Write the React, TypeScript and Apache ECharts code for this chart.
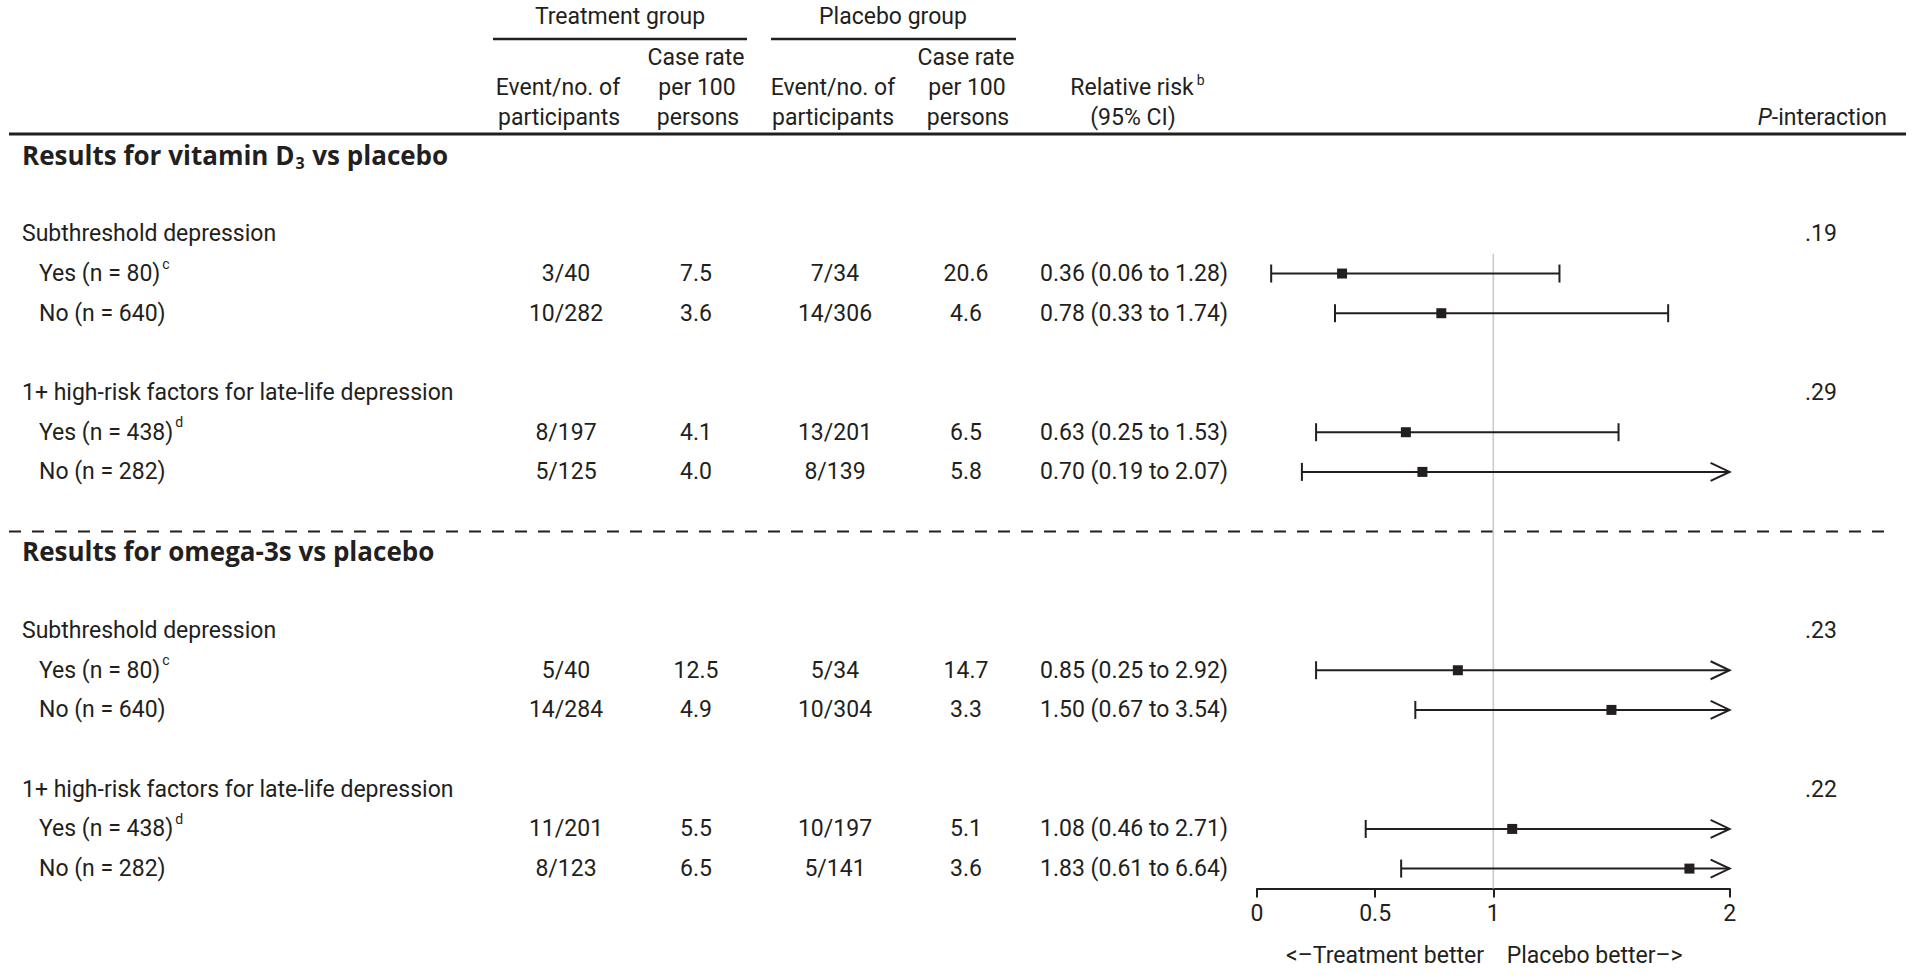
import React, { useEffect, useRef } from "react";
import * as echarts from "echarts";

// ---------------- data ----------------
const sectionTitles = ["Results for vitamin D", "Results for omega-3s vs placebo"];
const sectionTitleSub = ["3", ""];
const sectionTitleTail = [" vs placebo", ""];
const groupNames = ["Subthreshold depression", "1+ high-risk factors for late-life depression"];
const rowLabels = [
  "Yes (n = 80)", "No (n = 640)", "Yes (n = 438)", "No (n = 282)",
  "Yes (n = 80)", "No (n = 640)", "Yes (n = 438)", "No (n = 282)",
];
const rowNotes = ["c", "", "d", "", "c", "", "d", ""];
const treatmentEvents = ["3/40", "10/282", "8/197", "5/125", "5/40", "14/284", "11/201", "8/123"];
const treatmentRates = [7.5, 3.6, 4.1, 4.0, 12.5, 4.9, 5.5, 6.5];
const placeboEvents = ["7/34", "14/306", "13/201", "8/139", "5/34", "10/304", "10/197", "5/141"];
const placeboRates = [20.6, 4.6, 6.5, 5.8, 14.7, 3.3, 5.1, 3.6];
const relativeRisk = [0.36, 0.78, 0.63, 0.70, 0.85, 1.50, 1.08, 1.83];
const ciLower = [0.06, 0.33, 0.25, 0.19, 0.25, 0.67, 0.46, 0.61];
const ciUpper = [1.28, 1.74, 1.53, 2.07, 2.92, 3.54, 2.71, 6.64];
const pInteraction = [".19", ".29", ".23", ".22"];
const axisTickValues = [0, 0.5, 1, 2];
const axisMin = 0;
const axisMax = 2;
const referenceValue = 1;
const axisCaption = "<–Treatment better    Placebo better–>";

// ---------------- layout / style ----------------
const W = 1920;
const H = 980;
const INK = "#231f20";
const FF = "Roboto, 'Noto Sans', sans-serif";
const TITLE_FF = "'Open Sans', Roboto, sans-serif";
const FS = 23;
const TITLE_FS = 26;
const PITCH = 39.67;
const N_SLOTS = 19;
const GRID_TOP = 134.7;
const GRID_LEFT = 1257;
const GRID_RIGHT_X = 1729.6;
const GRID_BOTTOM = H - (GRID_TOP + N_SLOTS * PITCH);
const slotY = (s: number) => GRID_TOP + (s + 0.5) * PITCH;

const X_LABEL = 22;
const X_SUB = 39;
const X_TE = 566;
const X_TR = 696;
const X_PE = 835;
const X_PR = 966;
const X_RR = 1134;
const X_P = 1821;

let measureCtx: CanvasRenderingContext2D | null = null;
function measure(text: string, size: number, weight = "normal", family = FF, style = "normal") {
  if (!measureCtx) measureCtx = document.createElement("canvas").getContext("2d");
  if (!measureCtx) return text.length * size * 0.5;
  measureCtx.font = `${style} ${weight} ${size}px ${family}`;
  return measureCtx.measureText(text).width;
}

function txt(
  x: number,
  y: number,
  text: string,
  align: "left" | "center" | "right" = "center",
  size = FS,
  weight = "normal",
  family = FF,
  fontStyle = "normal"
): any {
  return {
    type: "text",
    x,
    y,
    style: {
      text,
      fill: INK,
      fontFamily: family,
      fontSize: size,
      fontWeight: weight,
      fontStyle,
      align,
      textAlign: align,
      verticalAlign: "middle",
      textVerticalAlign: "middle",
    },
  };
}

type Item = { kind: "title" | "group" | "row"; slot: number; idx: number };
const items: Item[] = [];
for (let s = 0; s < sectionTitles.length; s++) {
  items.push({ kind: "title", slot: s * 10, idx: s });
  for (let g = 0; g < groupNames.length; g++) {
    const gs = s * 10 + 2 + g * 4;
    items.push({ kind: "group", slot: gs, idx: s * 2 + g });
    for (let r = 0; r < 2; r++) items.push({ kind: "row", slot: gs + 1 + r, idx: s * 4 + g * 2 + r });
  }
}
const rowSlots: number[] = [];
items.forEach((it) => {
  if (it.kind === "row") rowSlots[it.idx] = it.slot;
});

function renderText(params: any, api: any) {
  const it = items[params.dataIndex];
  const y = api.coord([0, api.value(1)])[1];
  const children: any[] = [];
  if (it.kind === "title") {
    const t = sectionTitles[it.idx];
    const w = measure(t, TITLE_FS, "bold", TITLE_FF);
    children.push(txt(X_LABEL, y, t, "left", TITLE_FS, "bold", TITLE_FF));
    const sub = sectionTitleSub[it.idx];
    if (sub) {
      const ws = measure(sub, 16, "bold", TITLE_FF);
      children.push(txt(X_LABEL + w + 1, y + 8, sub, "left", 16, "bold", TITLE_FF));
      children.push(txt(X_LABEL + w + ws + 2, y, sectionTitleTail[it.idx], "left", TITLE_FS, "bold", TITLE_FF));
    }
  } else if (it.kind === "group") {
    children.push(txt(X_LABEL, y, groupNames[it.idx % 2], "left"));
    children.push(txt(X_P, y, pInteraction[it.idx], "center"));
  } else {
    const i = it.idx;
    const lab = rowLabels[i];
    children.push(txt(X_SUB, y, lab, "left"));
    if (rowNotes[i]) {
      const w = measure(lab, FS);
      children.push(txt(X_SUB + w + 2, y - 10, rowNotes[i], "left", 14));
    }
    children.push(txt(X_TE, y, treatmentEvents[i]));
    children.push(txt(X_TR, y, treatmentRates[i].toFixed(1)));
    children.push(txt(X_PE, y, placeboEvents[i]));
    children.push(txt(X_PR, y, placeboRates[i].toFixed(1)));
    children.push(
      txt(
        X_RR,
        y,
        `${relativeRisk[i].toFixed(2)} (${ciLower[i].toFixed(2)} to ${ciUpper[i].toFixed(2)})`
      )
    );
  }
  return { type: "group", children };
}

function renderForest(params: any, api: any) {
  const rr = api.value(0);
  const slot = api.value(1);
  const lo = api.value(2);
  const hi = api.value(3);
  const [xr, y] = api.coord([rr, slot]);
  const xl = api.coord([Math.max(lo, axisMin), slot])[0];
  const clipped = hi > axisMax;
  const xh = api.coord([Math.min(hi, axisMax), slot])[0];
  const st = { stroke: INK, lineWidth: 2, fill: null };
  const children: any[] = [
    { type: "line", shape: { x1: xl, y1: y, x2: xh, y2: y }, style: st },
    { type: "line", shape: { x1: xl, y1: y - 9, x2: xl, y2: y + 9 }, style: st },
  ];
  if (clipped) {
    children.push({
      type: "polyline",
      shape: { points: [[xh - 19, y - 9], [xh, y], [xh - 19, y + 9]] },
      style: st,
    });
  } else {
    children.push({ type: "line", shape: { x1: xh, y1: y - 9, x2: xh, y2: y + 9 }, style: st });
  }
  children.push({ type: "rect", shape: { x: xr - 5, y: y - 5, width: 10, height: 10 }, style: { fill: INK } });
  return { type: "group", children };
}

function renderRef(params: any, api: any) {
  const p1 = api.coord([api.value(0), api.value(1)]);
  const p2 = api.coord([api.value(0), api.value(2)]);
  return {
    type: "line",
    shape: { x1: p1[0], y1: p1[1], x2: p2[0], y2: p2[1] },
    style: { stroke: "#cccccc", lineWidth: 1.6 },
  };
}

function buildHeader(): any[] {
  const g: any[] = [];
  const hl = (x1: number, x2: number, y: number, w: number, dash?: number[]) => ({
    type: "line",
    shape: { x1, y1: y, x2, y2: y },
    style: { stroke: INK, lineWidth: w, lineDash: dash },
  });
  g.push(txt(620, 16, "Treatment group"));
  g.push(txt(893, 16, "Placebo group"));
  g.push(hl(493, 747, 39, 2.5));
  g.push(hl(771, 1016, 39, 2.5));
  g.push(txt(696, 57, "Case rate"));
  g.push(txt(966, 57, "Case rate"));
  g.push(txt(558, 87, "Event/no. of"));
  g.push(txt(833, 87, "Event/no. of"));
  g.push(txt(697, 87, "per 100"));
  g.push(txt(967, 87, "per 100"));
  g.push(txt(559, 117, "participants"));
  g.push(txt(833, 117, "participants"));
  g.push(txt(698, 117, "persons"));
  g.push(txt(968, 117, "persons"));
  const rl = "Relative risk";
  const rlw = measure(rl, FS);
  g.push(txt(1132, 87, rl));
  g.push(txt(1132 + rlw / 2 + 3, 80, "b", "left", 14));
  g.push(txt(1133, 117, "(95% CI)"));
  const tail = "-interaction";
  const tw = measure(tail, FS);
  g.push(txt(1887, 117, tail, "right"));
  g.push(txt(1887 - tw, 117, "P", "right", FS, "normal", FF, "italic"));
  g.push(hl(9, 1906, 134, 3));
  g.push(hl(9, 1895, slotY(9.5), 2, [12, 11]));
  return g;
}

export default function App() {
  const ref = useRef<HTMLDivElement>(null);
  useEffect(() => {
    if (!ref.current) return;
    const chart = echarts.init(ref.current, undefined, { renderer: "svg" });
    chart.setOption({
      animation: false,
      backgroundColor: "#ffffff",
      grid: {
        left: GRID_LEFT,
        right: W - GRID_RIGHT_X,
        top: GRID_TOP,
        bottom: GRID_BOTTOM,
        containLabel: false,
        outerBoundsMode: "none",
      },
      xAxis: {
        type: "value",
        min: axisMin,
        max: axisMax,
        position: "bottom",
        splitLine: { show: false },
        axisLine: { show: true, onZero: false, lineStyle: { color: INK, width: 2 } },
        axisTick: {
          show: true,
          inside: false,
          length: 9,
          customValues: axisTickValues,
          lineStyle: { color: INK, width: 2 },
        },
        axisLabel: {
          customValues: axisTickValues,
          margin: 14,
          color: INK,
          fontFamily: FF,
          fontSize: FS,
        },
        name: axisCaption,
        nameLocation: "middle",
        nameGap: 56,
        nameTextStyle: { color: INK, fontFamily: FF, fontSize: FS, padding: [0, 18, 0, 0] },
      },
      yAxis: {
        type: "value",
        min: -0.5,
        max: N_SLOTS - 0.5,
        inverse: true,
        show: false,
      },
      graphic: buildHeader(),
      series: [
        {
          type: "custom",
          name: "reference",
          clip: false,
          silent: true,
          z: 1,
          renderItem: renderRef,
          encode: { x: 0, y: 1 },
          data: [[referenceValue, 2.5, N_SLOTS - 0.5]],
        },
        {
          type: "custom",
          name: "relative risk",
          clip: false,
          z: 3,
          renderItem: renderForest,
          encode: { x: 0, y: 1 },
          data: relativeRisk.map((v, i) => [v, rowSlots[i], ciLower[i], ciUpper[i]]),
        },
        {
          type: "custom",
          name: "table",
          clip: false,
          silent: true,
          z: 2,
          renderItem: renderText,
          encode: { x: 0, y: 1 },
          data: items.map((it) => [0, it.slot]),
        },
      ],
    });
    return () => chart.dispose();
  }, []);
  return (
    <div
      ref={ref}
      style={{ position: "fixed", left: 0, top: 0, width: W, height: H, background: "#fff" }}
    />
  );
}
